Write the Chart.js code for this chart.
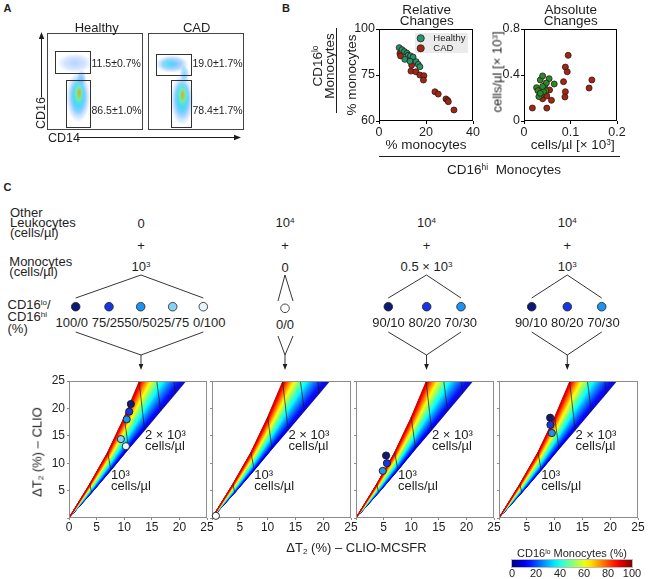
<!DOCTYPE html>
<html>
<head>
<meta charset="utf-8">
<title>CD16 monocytes</title>
<script src="https://cdn.jsdelivr.net/npm/chart.js@4.4.1/dist/chart.umd.min.js"></script>
<style>
  body { margin: 0; background: #fff; }
  #page { position: relative; width: 648px; height: 579px; overflow: hidden; font-family: Arial, "Liberation Sans", Helvetica, sans-serif; color: #1e1e1e; }
  #page canvas { position: absolute; }
  #lines { position: absolute; left: 0; top: 0; }
  .t { position: absolute; white-space: nowrap; line-height: 1; }
  .up { font-size: 0.62em; position: relative; top: -0.5em; }
  .dn { font-size: 0.62em; position: relative; top: 0.25em; }
</style>
</head>
<body>
<div id="page"><svg id="lines" width="648" height="579"></svg></div>
<script>
// ---- Panel A: flow cytometry (box units 0-100) ----
var healthyGateX0 = [8.6, 19.8], healthyGateX1 = [45.1, 45.1];
var healthyGateY0 = [58.6, 3.4], healthyGateY1 = [81.0, 51.7];
var cadGateX0 = [8.3, 24.1], cadGateX1 = [44.8, 44.8];
var cadGateY0 = [56.9, 3.4], cadGateY1 = [78.6, 51.7];
var healthyGateText = ['11.5±0.7%', '86.5±1.0%'];
var cadGateText = ['19.0±1.7%', '78.4±1.7%'];

var healthyBlobX = [29, 36, 32.6, 32.6, 33, 33.5];
var healthyBlobY = [69, 54, 34, 35, 37, 38];
var healthyBlobRX = [18, 5, 12.5, 8.5, 5.5, 2.8];
var healthyBlobRY = [10, 8, 26, 19, 12, 6];
var healthyBlobLevel = [0.22, 0.25, 0.24, 0.36, 0.55, 0.75];
var healthyBlobAlpha = [0.28, 0.35, 0.6, 0.7, 0.7, 0.55];

var cadBlobX = [25, 22, 38, 35.5, 35.5, 36, 36];
var cadBlobY = [68, 68, 58, 31, 33, 35, 36];
var cadBlobRX = [17, 9, 5, 12, 8.5, 5.5, 2.8];
var cadBlobRY = [9, 5, 9, 26, 19, 12, 6];
var cadBlobLevel = [0.25, 0.4, 0.28, 0.24, 0.36, 0.55, 0.75];
var cadBlobAlpha = [0.55, 0.45, 0.45, 0.6, 0.7, 0.7, 0.55];

// ---- Panel B: relative changes (% of monocytes) ----
var relXTicks = [0, 20, 40];
var relYTicks = [60, 80, 100];
var relYLabels = ['60', '75', '100'];
var relHealthyHi = [8.6, 9.8, 10.8, 11.9, 12.4, 13.4, 14.5, 11.0, 13.2, 15.8, 16.7, 17.4];
var relHealthyLo = [91.9, 91.0, 90.2, 89.5, 88.6, 88.3, 87.8, 86.8, 86.0, 85.8, 84.6, 83.6];
var relCadHi = [8.9, 9.2, 13.9, 13.6, 15.7, 17.4, 19.1, 18.9, 23.8, 25.2, 28.5, 29.2, 29.5, 31.9];
var relCadLo = [89.4, 88.3, 84.3, 81.7, 81.4, 80.0, 79.7, 77.8, 72.7, 71.7, 69.6, 69.0, 68.4, 64.8];

// ---- Panel B: absolute changes (cells/µl × 10³) ----
var absXTicks = [0, 0.1, 0.2];
var absYTicks = [0, 0.4, 0.8];
var absHealthyHi = [0.027, 0.035, 0.040, 0.030, 0.037, 0.032, 0.044, 0.047, 0.054, 0.065, 0.042, 0.048, 0.035, 0.040];
var absHealthyLo = [0.290, 0.357, 0.392, 0.264, 0.226, 0.212, 0.304, 0.264, 0.368, 0.322, 0.255, 0.330, 0.241, 0.300];
var absCadHi = [0.018, 0.049, 0.040, 0.049, 0.055, 0.059, 0.085, 0.089, 0.095, 0.093, 0.089, 0.088, 0.140, 0.146];
var absCadLo = [0.113, 0.112, 0.193, 0.217, 0.270, 0.180, 0.342, 0.469, 0.571, 0.428, 0.255, 0.209, 0.287, 0.357];

// ---- Panel C: simulated ΔT2 map ----
var simTicks = [0, 5, 10, 15, 20, 25];
var wedgeCells = [0, 0.5, 1, 1.5, 2, 2.5, 3, 3.5];   // total monocytes, × 10³ cells/µl
var wedgeLoX = [0, 3.75, 7.0, 10.0, 12.7, 15.2, 17.7, 20.2];   // 100 % CD16lo edge
var wedgeLoY = [0, 6.2, 12.0, 18.4, 24.9, 30.5, 36.0, 41.5];
var wedgeHiX = [0, 4.1, 7.6, 10.8, 13.7, 16.6, 19.3, 22.0];    // 0 % CD16lo edge
var wedgeHiY = [0, 4.6, 8.7, 12.6, 16.0, 19.5, 22.7, 26.0];
var contourCells = [0.5, 1, 1.5, 2, 2.5, 3];
var wedgeLabelText = ['10³', 'cells/µl', '2 × 10³', 'cells/µl'];
var wedgeLabelX = [7.6, 7.6, 13.75, 13.75];
var wedgeLabelY = [7.7, 5.7, 15.1, 13.05];

var mixColors = ['#0b1a78', '#1636e6', '#1e92ee', '#86d2f6', '#e4f7fe'];
var sim1X = [11.2, 10.9, 10.45, 9.4, 10.3];
var sim1Y = [20.8, 19.4, 18.0, 14.4, 13.1];
var sim2X = [0.7];
var sim2Y = [0.4];
var sim3X = [5.45, 5.6, 4.85];
var sim3Y = [11.4, 10.0, 8.6];
var sim4X = [9.2, 9.25, 9.5];
var sim4Y = [18.3, 17.0, 15.5];
var colorbarTicks = [0, 20, 40, 60, 80, 100];

var FONT = 'Arial, "Liberation Sans", Helvetica, sans-serif';
Chart.defaults.font.family = FONT;
Chart.defaults.color = '#1e1e1e';
var page = document.getElementById('page');
var svg = document.getElementById('lines');

function jetRGB(t) {
  function c(v) { return Math.max(0, Math.min(1, v)); }
  return [c(1.5 - Math.abs(4 * t - 3)), c(1.5 - Math.abs(4 * t - 2)), c(1.5 - Math.abs(4 * t - 1))]
    .map(function(v) { return Math.round(v * 255); });
}
function rgba(c, a) { return 'rgba(' + c[0] + ',' + c[1] + ',' + c[2] + ',' + a + ')'; }

function txt(html, x, y, size, opts) {
  opts = opts || {};
  var d = document.createElement('div');
  d.className = 't';
  d.innerHTML = html;
  d.style.left = x + 'px';
  d.style.top = y + 'px';
  d.style.fontSize = size + 'px';
  if (opts.lh) d.style.lineHeight = opts.lh + 'px';
  if (opts.bold) d.style.fontWeight = 'bold';
  d.style.textAlign = opts.align === 'l' ? 'left' : 'center';
  var tx = opts.align === 'l' ? '0' : '-50%';
  d.style.transform = 'translate(' + tx + ',-50%)' + (opts.rot ? ' rotate(' + opts.rot + 'deg)' : '');
  page.appendChild(d);
}

function ln(x1, y1, x2, y2, w) {
  var l = document.createElementNS('http://www.w3.org/2000/svg', 'line');
  l.setAttribute('x1', x1); l.setAttribute('y1', y1);
  l.setAttribute('x2', x2); l.setAttribute('y2', y2);
  l.setAttribute('stroke', '#1e1e1e');
  l.setAttribute('stroke-width', w || 0.9);
  svg.appendChild(l);
}
function tri(points) {
  var p = document.createElementNS('http://www.w3.org/2000/svg', 'polygon');
  p.setAttribute('points', points);
  p.setAttribute('fill', '#1e1e1e');
  svg.appendChild(p);
}
function dot(x, y, color) {
  var c = document.createElementNS('http://www.w3.org/2000/svg', 'circle');
  c.setAttribute('cx', x); c.setAttribute('cy', y); c.setAttribute('r', 4.3);
  c.setAttribute('fill', color); c.setAttribute('stroke', '#1e1e1e'); c.setAttribute('stroke-width', 0.8);
  svg.appendChild(c);
}

// canvas whose chart area lands on rect = [left, top, right, bottom]
function mount(rect, padL, padT, padR, padB) {
  var c = document.createElement('canvas');
  var L = rect[0] - padL, T = rect[1] - padT;
  var W = rect[2] - rect[0] + padL + padR, H = rect[3] - rect[1] + padT + padB;
  c.width = W; c.height = H;
  c.style.left = L + 'px'; c.style.top = T + 'px';
  c.style.width = W + 'px'; c.style.height = H + 'px';
  page.appendChild(c);
  return c;
}

function baseOptions(pad) {
  return {
    responsive: false, animation: false, devicePixelRatio: 1,
    layout: { padding: pad },
    plugins: { legend: { display: false }, tooltip: { enabled: false } }
  };
}

function axis(min, max, vals, labelFn, fit, isX, o) {
  return {
    type: 'linear', min: min, max: max,
    afterBuildTicks: function(s) { s.ticks = vals.map(function(v) { return { value: v }; }); },
    ticks: { callback: function(v, i) { return labelFn(v, i); }, font: { size: o.size }, color: '#1e1e1e',
             padding: o.pad, maxRotation: 0, autoSkip: false },
    grid: { drawOnChartArea: false, tickLength: o.tick, color: o.color },
    border: { display: false },
    afterFit: function(s) {
      if (isX) { s.height = fit; s.paddingLeft = 0; s.paddingRight = 0; }
      else { s.width = fit; s.paddingTop = 0; s.paddingBottom = 0; }
    }
  };
}

function framePlugin(color) {
  return {
    id: 'frame',
    beforeDatasetsDraw: function(chart) {
      var a = chart.chartArea, ctx = chart.ctx;
      ctx.save();
      ctx.strokeStyle = color;
      ctx.lineWidth = 1;
      ctx.strokeRect(Math.round(a.left) + 0.5, Math.round(a.top) + 0.5,
                     Math.round(a.right - a.left) - 1, Math.round(a.bottom - a.top) - 1);
      ctx.restore();
    }
  };
}

function pts(xs, ys) { return xs.map(function(x, i) { return { x: x, y: ys[i] }; }); }

// ---------- Panel A ----------
function flowPlugin(blob, gate) {
  return {
    id: 'flow',
    beforeDatasetsDraw: function(chart) {
      var ctx = chart.ctx, a = chart.chartArea, sx = chart.scales.x, sy = chart.scales.y;
      ctx.save();
      ctx.beginPath(); ctx.rect(a.left, a.top, a.right - a.left, a.bottom - a.top); ctx.clip();
      for (var i = 0; i < blob.x.length; i++) {
        var cx = sx.getPixelForValue(blob.x[i]), cy = sy.getPixelForValue(blob.y[i]);
        var rx = Math.abs(sx.getPixelForValue(blob.x[i] + blob.rx[i]) - cx);
        var ry = Math.abs(sy.getPixelForValue(blob.y[i] + blob.ry[i]) - cy);
        var col = jetRGB(blob.level[i]);
        ctx.save();
        ctx.translate(cx, cy); ctx.scale(rx, ry);
        var g = ctx.createRadialGradient(0, 0, 0, 0, 0, 1);
        g.addColorStop(0, rgba(col, blob.alpha[i]));
        g.addColorStop(0.6, rgba(col, blob.alpha[i] * 0.6));
        g.addColorStop(1, rgba(col, 0));
        ctx.fillStyle = g;
        ctx.beginPath(); ctx.arc(0, 0, 1, 0, Math.PI * 2); ctx.fill();
        ctx.restore();
      }
      ctx.restore();
      ctx.save();
      ctx.strokeStyle = '#333';
      ctx.lineWidth = 1;
      for (var k = 0; k < gate.x0.length; k++) {
        var x0 = Math.round(sx.getPixelForValue(gate.x0[k])) + 0.5, x1 = Math.round(sx.getPixelForValue(gate.x1[k])) + 0.5;
        var y0 = Math.round(sy.getPixelForValue(gate.y1[k])) + 0.5, y1 = Math.round(sy.getPixelForValue(gate.y0[k])) + 0.5;
        ctx.strokeRect(x0, y0, x1 - x0, y1 - y0);
      }
      ctx.restore();
    }
  };
}

function flowChart(rect, blob, gate) {
  var cv = mount(rect, 2, 2, 2, 2);
  var opts = baseOptions({ left: 2, top: 2, right: 2, bottom: 2 });
  opts.scales = { x: { type: 'linear', min: 0, max: 100, display: false }, y: { type: 'linear', min: 0, max: 100, display: false } };
  new Chart(cv, { type: 'scatter', data: { datasets: [] }, options: opts,
                  plugins: [flowPlugin(blob, gate), framePlugin('#444')] });
}

flowChart([47, 33, 143, 130],
  { x: healthyBlobX, y: healthyBlobY, rx: healthyBlobRX, ry: healthyBlobRY, level: healthyBlobLevel, alpha: healthyBlobAlpha },
  { x0: healthyGateX0, x1: healthyGateX1, y0: healthyGateY0, y1: healthyGateY1 });
flowChart([148, 33, 244, 130],
  { x: cadBlobX, y: cadBlobY, rx: cadBlobRX, ry: cadBlobRY, level: cadBlobLevel, alpha: cadBlobAlpha },
  { x0: cadGateX0, x1: cadGateX1, y0: cadGateY0, y1: cadGateY1 });

txt('A', 7.5, 8, 11, { bold: true });
txt('Healthy', 96.7, 26.7, 13);
txt('CAD', 196.7, 26.7, 13);
txt(healthyGateText[0], 91.5, 63.3, 10.5, { align: 'l' });
txt(healthyGateText[1], 91.5, 110, 10.5, { align: 'l' });
txt(cadGateText[0], 192.5, 63.3, 10.5, { align: 'l' });
txt(cadGateText[1], 192.5, 110, 10.5, { align: 'l' });
txt('CD16', 41, 113, 12.5, { rot: -90 });
txt('CD14', 48, 137.5, 12.5, { align: 'l' });
ln(41.5, 97, 41.5, 38, 1);
tri('38.8,39 44.2,39 41.5,32');
ln(77, 137.5, 235, 137.5, 1);
tri('234,134.8 234,140.2 241,137.5');

// ---------- Panel B ----------
var legendPlugin = {
  id: 'legendBox',
  afterDatasetsDraw: function(chart) {
    var ctx = chart.ctx, a = chart.chartArea;
    ctx.save();
    ctx.fillStyle = '#ebebeb';
    ctx.fillRect(a.left + 36, a.top + 4, 53, 20);
    chart.data.datasets.forEach(function(ds, i) {
      var y = a.top + 9.3 + i * 10;
      ctx.beginPath();
      ctx.arc(a.left + 41.7, y, 3.6, 0, Math.PI * 2);
      ctx.fillStyle = ds.backgroundColor;
      ctx.fill();
      ctx.lineWidth = 0.8; ctx.strokeStyle = '#222'; ctx.stroke();
      ctx.fillStyle = '#1e1e1e';
      ctx.font = '9.5px ' + FONT;
      ctx.textBaseline = 'middle';
      ctx.fillText(ds.label, a.left + 54.3, y + 0.5);
    });
    ctx.restore();
  }
};

function scatterSet(label, xs, ys, color) {
  return { label: label, data: pts(xs, ys), backgroundColor: color, borderColor: '#2a1a14',
           borderWidth: 0.8, pointRadius: 3, pointHoverRadius: 3 };
}

var bAxis = { size: 12.5, pad: 1, tick: 3, color: '#000' };

(function() {
  var rect = [379, 29, 473, 121];
  var cv = mount(rect, 40, 8, 12, 22);
  var opts = baseOptions({ left: 0, top: 8, right: 12, bottom: 0 });
  opts.scales = {
    x: axis(0, 40, relXTicks, function(v) { return String(v); }, 22, true, bAxis),
    y: axis(60, 100, relYTicks, function(v, i) { return relYLabels[i]; }, 40, false, bAxis)
  };
  new Chart(cv, {
    type: 'scatter',
    data: { datasets: [scatterSet('Healthy', relHealthyHi, relHealthyLo, '#22956b'),
                       scatterSet('CAD', relCadHi, relCadLo, '#a52414')] },
    options: opts,
    plugins: [framePlugin('#000'), legendPlugin]
  });
})();

(function() {
  var rect = [524, 29, 617, 121];
  var cv = mount(rect, 40, 8, 14, 22);
  var opts = baseOptions({ left: 0, top: 8, right: 14, bottom: 0 });
  opts.scales = {
    x: axis(0, 0.2, absXTicks, function(v) { return String(v); }, 22, true, bAxis),
    y: axis(0, 0.8, absYTicks, function(v) { return String(v); }, 40, false, bAxis)
  };
  new Chart(cv, {
    type: 'scatter',
    data: { datasets: [scatterSet('Healthy', absHealthyHi, absHealthyLo, '#2a8a2a'),
                       scatterSet('CAD', absCadHi, absCadLo, '#a52414')] },
    options: opts,
    plugins: [framePlugin('#000')]
  });
})();

txt('B', 286, 8, 11, { bold: true });
txt('Relative<br>Changes', 426.7, 15, 13.5, { lh: 11.4 });
txt('Absolute<br>Changes', 570.7, 15, 13.5, { lh: 11.4 });
txt('% monocytes', 352, 75, 13.5, { rot: -90 });
txt('% monocytes', 426, 145, 13.5);
txt('cells/µl [× 10<span class="up">3</span>]', 497, 72, 13, { rot: -90 });
txt('cells/µl [× 10<span class="up">3</span>]', 572.7, 145, 13.5);
txt('CD16<span class="up">lo</span><br>Monocytes', 323.5, 66, 13.5, { rot: -90, lh: 10.5 });
ln(336.5, 28, 336.5, 113, 1);
ln(379, 156.5, 620, 156.5, 1);
txt('CD16<span class="up">hi</span>&nbsp; Monocytes', 504, 170, 13.5);

// ---------- Panel C ----------
function wedgePlugin() {
  return {
    id: 'wedge',
    beforeDatasetsDraw: function(chart) {
      var ctx = chart.ctx, a = chart.chartArea, sx = chart.scales.x, sy = chart.scales.y;
      function at(i, f) {
        var x = wedgeHiX[i] + f * (wedgeLoX[i] - wedgeHiX[i]);
        var y = wedgeHiY[i] + f * (wedgeLoY[i] - wedgeHiY[i]);
        return [sx.getPixelForValue(x), sy.getPixelForValue(y)];
      }
      ctx.save();
      ctx.beginPath(); ctx.rect(a.left, a.top, a.right - a.left, a.bottom - a.top); ctx.clip();
      var n = 64, i, p;
      for (var j = 0; j < n; j++) {
        var f0 = j / n, f1 = (j + 1) / n;
        ctx.beginPath();
        for (i = 0; i < wedgeCells.length; i++) { p = at(i, f0); if (i) ctx.lineTo(p[0], p[1]); else ctx.moveTo(p[0], p[1]); }
        for (i = wedgeCells.length - 1; i >= 0; i--) { p = at(i, f1); ctx.lineTo(p[0], p[1]); }
        ctx.closePath();
        var col = rgba(jetRGB(0.05 + 0.88 * (f0 + f1) / 2), 1);
        ctx.fillStyle = col; ctx.strokeStyle = col; ctx.lineWidth = 0.6;
        ctx.fill(); ctx.stroke();
      }
      ctx.strokeStyle = '#1a1a1a';
      ctx.lineWidth = 0.7;
      contourCells.forEach(function(c) {
        var k = wedgeCells.indexOf(c), lo = at(k, 1), hi = at(k, 0);
        ctx.beginPath(); ctx.moveTo(lo[0], lo[1]); ctx.lineTo(hi[0], hi[1]); ctx.stroke();
      });
      ctx.restore();
      ctx.save();
      ctx.fillStyle = '#1e1e1e';
      ctx.font = '13px ' + FONT;
      ctx.textBaseline = 'middle';
      wedgeLabelText.forEach(function(t, m) {
        ctx.fillText(t, sx.getPixelForValue(wedgeLabelX[m]), sy.getPixelForValue(wedgeLabelY[m]));
      });
      ctx.restore();
    }
  };
}

var cAxis = { size: 12, pad: 0, tick: 2, color: '#8c8c8c' };

function simChart(rect, xs, ys, colors, first) {
  var cv = mount(rect, 40, 8, 10, 22);
  var opts = baseOptions({ left: 0, top: 8, right: 10, bottom: 0 });
  opts.scales = {
    x: axis(0, 25, simTicks, function(v) { return (v === 0 && !first) ? '' : String(v); }, 22, true, cAxis),
    y: axis(0, 25, simTicks, function(v) { return (v === 0 || !first) ? '' : String(v); }, 40, false, cAxis)
  };
  opts.scales.y.ticks.padding = 2;
  new Chart(cv, {
    type: 'scatter',
    data: { datasets: [{ data: pts(xs, ys), backgroundColor: colors, borderColor: '#1a1a1a', borderWidth: 0.9,
                         pointRadius: 3.6, pointHoverRadius: 3.6, clip: false }] },
    options: opts,
    plugins: [wedgePlugin(), framePlugin('#8c8c8c')]
  });
}

simChart([69, 381, 207, 518], sim1X, sim1Y, mixColors, true);
simChart([212, 381, 351, 518], sim2X, sim2Y, ['#ffffff'], false);
simChart([356, 381, 494, 518], sim3X, sim3Y, mixColors.slice(0, 3), false);
simChart([499, 381, 638, 518], sim4X, sim4Y, mixColors.slice(0, 3), false);

// colour bar
(function() {
  var rect = [512, 560, 632, 567];
  var cv = mount(rect, 8, 3, 10, 13);
  var opts = baseOptions({ left: 8, top: 3, right: 10, bottom: 0 });
  opts.scales = {
    x: axis(0, 100, colorbarTicks, function(v) { return String(v); }, 13, true, { size: 11, pad: 0, tick: 0, color: 'rgba(0,0,0,0)' }),
    y: { display: false, min: 0, max: 1 }
  };
  var barPlugin = {
    id: 'bar',
    beforeDatasetsDraw: function(chart) {
      var ctx = chart.ctx, a = chart.chartArea, sx = chart.scales.x;
      var g = ctx.createLinearGradient(sx.getPixelForValue(0), 0, sx.getPixelForValue(100), 0);
      for (var s = 0; s <= 20; s++) g.addColorStop(s / 20, rgba(jetRGB(s / 20), 1));
      ctx.save();
      ctx.fillStyle = g;
      ctx.fillRect(a.left, a.top, a.right - a.left, a.bottom - a.top);
      ctx.strokeStyle = '#bbb'; ctx.lineWidth = 1;
      ctx.strokeRect(a.left - 0.5, a.top - 0.5, a.right - a.left + 1, a.bottom - a.top + 1);
      ctx.restore();
    }
  };
  new Chart(cv, { type: 'scatter', data: { datasets: [] }, options: opts, plugins: [barPlugin] });
})();
txt('CD16<span class="up">lo</span> Monocytes (%)', 572, 553, 11);

// schematic above the maps
txt('C', 7.5, 187, 11, { bold: true });
txt('Other<br>Leukocytes<br>(cells/µl)', 10, 222.5, 13, { align: 'l', lh: 10.2 });
txt('Monocytes<br>(cells/µl)', 9.3, 266.7, 13, { align: 'l', lh: 10 });
txt('CD16<span class="up">lo</span>/<br>CD16<span class="up">hi</span><br>(%)', 7.5, 316.7, 13, { align: 'l', lh: 10 });

var colX = [141, 285, 426.5, 567.3];
var otherText = ['0', '10<span class="up">4</span>', '10<span class="up">4</span>', '10<span class="up">4</span>'];
var monoText = ['10<span class="up">3</span>', '0', '0.5 × 10<span class="up">3</span>', '10<span class="up">3</span>'];
var ratioText = ['100/0 75/2550/5025/75 0/100', '0/0', '90/10 80/20 70/30', '90/10 80/20 70/30'];
var ratioX = [140.5, 285, 424.7, 567.3];
var dotX = [[75.7, 109, 140.7, 172.7, 203.3], [285], [388.3, 426.7, 461], [531.7, 567.3, 601.7]];
var dotColors = [mixColors, ['#ffffff'], mixColors.slice(0, 3), mixColors.slice(0, 3)];

colX.forEach(function(x, k) {
  txt(otherText[k], x, 223, 13);
  txt('+', x, 245, 13);
  txt(monoText[k], x, 267.3, 13);
  txt(ratioText[k], ratioX[k], k === 1 ? 324 : 321.7, 13);
  var xs = dotX[k];
  var l = k === 1 ? x - 7 : xs[0], r = k === 1 ? x + 8 : xs[xs.length - 1];
  var yTop = k === 1 ? 301 : 298, yBot = k === 1 ? 336 : 332;
  ln(x, 275, l, yTop); ln(x, 275, r, yTop);
  ln(l, yBot, x, 355); ln(r, yBot, x, 355);
  ln(x, 355, x, 365);
  tri((x - 2.3) + ',364 ' + (x + 2.3) + ',364 ' + x + ',370');
  xs.forEach(function(dx, m) { dot(dx, k === 1 ? 308.3 : 306.7, dotColors[k][m]); });
});

txt('ΔT<span class="dn">2</span> (%) – CLIO', 36.7, 452, 13, { rot: -90 });
txt('ΔT<span class="dn">2</span> (%) – CLIO-MCSFR', 356.5, 548, 13);
</script>
</body>
</html>
